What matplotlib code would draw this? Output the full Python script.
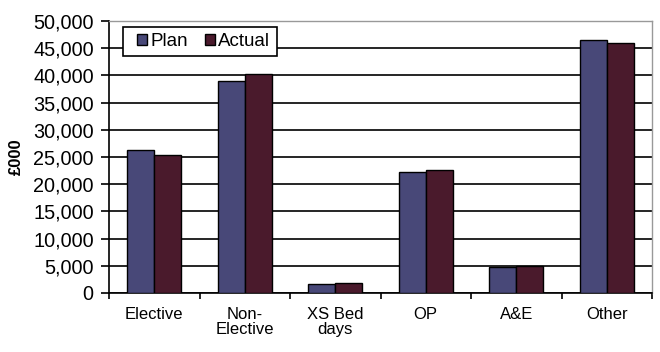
import matplotlib
matplotlib.use("Agg")
import matplotlib.pyplot as plt
import numpy as np
from matplotlib.ticker import FuncFormatter, FixedLocator
from matplotlib.patches import Rectangle

plt.rcParams['font.family'] = ['Liberation Sans', 'DejaVu Sans']

categories = ["Elective", "Non-\nElective", "XS Bed\ndays", "OP", "A&E", "Other"]
plan = [26200, 39000, 1700, 22300, 4700, 46500]
actual = [25300, 40300, 1750, 22650, 4950, 45900]
yticks = list(range(0, 50001, 5000))

W, H = 660, 352
L, R, T, B = 109, 652, 21, 293
fig = plt.figure(figsize=(6.6, 3.52), dpi=100)
ax = fig.add_axes([L/W, 1-B/H, (R-L)/W, (B-T)/H])

x = np.arange(len(categories))
w = 0.3
ax.bar(x - w/2, plan, w, color="#484878", edgecolor="black", linewidth=1.0, label="Plan", zorder=3)
ax.bar(x + w/2, actual, w, color="#4a1a2c", edgecolor="black", linewidth=1.0, label="Actual", zorder=3)

ax.set_xlim(-0.5, len(categories) - 0.5)
ax.set_ylim(0, 50000)
ax.set_yticks(yticks)
ax.yaxis.set_major_formatter(FuncFormatter(lambda v, p: f"{int(v):,}"))
ax.grid(axis='y', color='black', linewidth=1.2, zorder=0)
ax.set_axisbelow(True)

ax.set_xticks(x)
ax.set_xticklabels(categories, fontsize=12, linespacing=1.05)
ax.tick_params(axis='x', length=0, pad=10)
ax.xaxis.set_minor_locator(FixedLocator(np.arange(-0.5, len(categories), 1.0)))
ax.tick_params(axis='x', which='minor', length=4, width=1.2, direction='out', color='black')
ax.tick_params(axis='y', length=6, width=1.2, direction='out', labelsize=14.3, pad=5)

for s in ['left', 'bottom']:
    ax.spines[s].set_color('black')
    ax.spines[s].set_linewidth(1.2)
for s in ['top', 'right']:
    ax.spines[s].set_color('#999999')
    ax.spines[s].set_linewidth(1.0)

ax.set_ylabel("£000", fontsize=12, fontweight='bold')
ax.yaxis.set_label_coords((24 - L) / (R - L), 0.5)

# legend frame (drawn separately to match the wide padding)
fx0, fy0, fx1, fy1 = 123, 27, 277, 56
frame = Rectangle((fx0/W, 1-fy1/H), (fx1-fx0)/W, (fy1-fy0)/H, transform=fig.transFigure,
                  facecolor='white', edgecolor='black', linewidth=1.2, zorder=4, clip_on=False)
ax.add_patch(frame)

leg = ax.legend(loc='center left', bbox_to_anchor=((137-L)/(R-L), 1-((fy0+fy1)/2 - T)/(B-T)),
                ncol=2, frameon=False, fontsize=13.5, handlelength=0.55, handleheight=0.55,
                handletextpad=0.15, columnspacing=0.9, borderpad=0, borderaxespad=0)
leg.set_zorder(6)

fig.savefig("out.png", dpi=100)
